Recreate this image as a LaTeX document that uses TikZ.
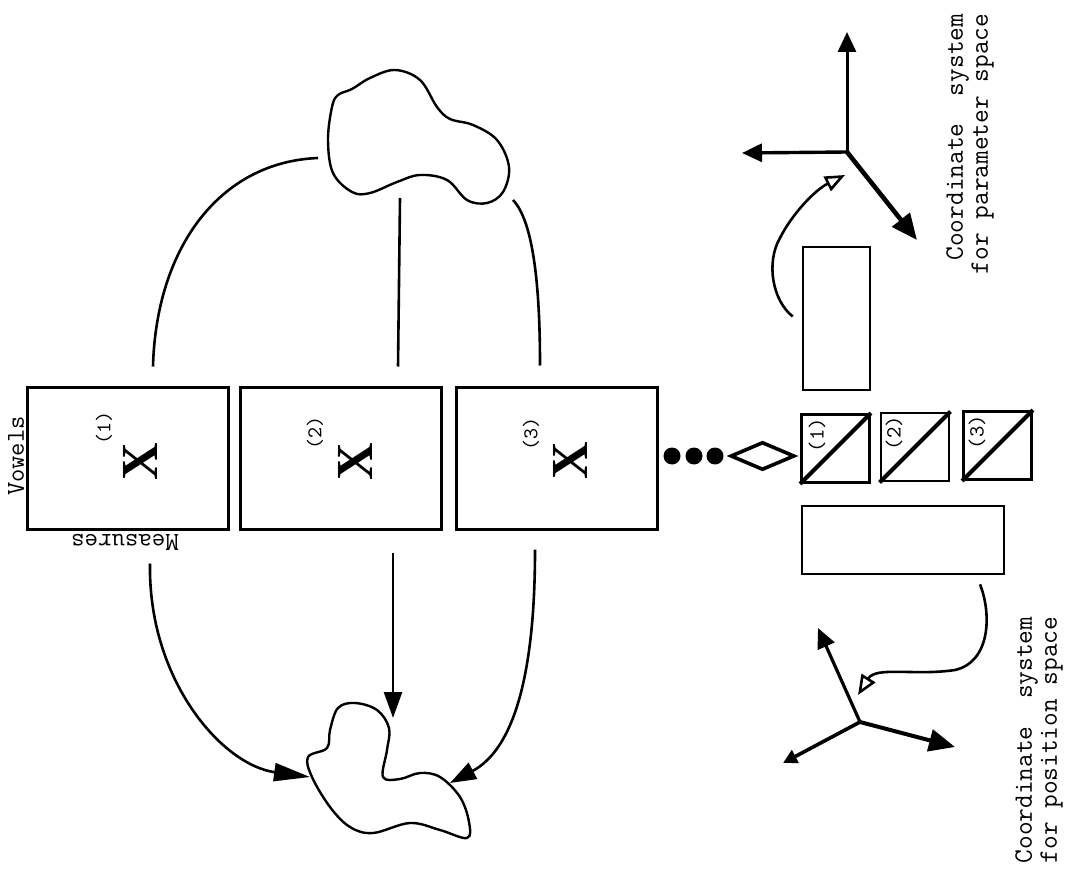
\documentclass[tikz,border=0pt]{standalone}
\usepackage{fontspec}
\newfontfamily\xfont{Liberation Serif}
\usepackage{tikz}
\usetikzlibrary{arrows.meta, shapes.geometric, calc}

\begin{document}
\begin{tikzpicture}[
    x=0.5pt, y=-0.5pt,
    measbox/.style={
        rectangle,
        draw,
        line width=1.5pt,
        minimum width=100.5pt,
        minimum height=71pt,
        inner sep=0pt
    },
    vsquare/.style={
        rectangle,
        draw,
        line width=1.4pt,
        minimum size=34pt,
        inner sep=0pt
    },
    emptybox/.style={
        rectangle,
        draw,
        line width=1.3pt,
        inner sep=0pt
    },
    dotnode/.style={
        circle,
        fill,
        minimum size=8.5pt,
        inner sep=0pt
    },
    smalllabel/.style={
        rotate=90,
        inner sep=0pt,
        font=\fontsize{10.5}{11}\selectfont\ttfamily
    },
    bigx/.style={
        rotate=90,
        inner sep=0pt,
        font=\fontsize{26}{26}\selectfont\xfont\bfseries
    },
    caption/.style={
        rotate=90,
        align=right,
        inner sep=0pt,
        font=\fontsize{13.3}{12.5}\selectfont\ttfamily
    },
    blob/.style={
        line width=1.2pt,
        smooth cycle,
        tension=0.6
    },
    link/.style={
        line width=1.3pt
    },
    arrow/.style={
        line width=1.3pt,
        -{Triangle[length=#1, width=9pt]}
    },
    openarrow/.style={
        line width=1.3pt,
        -{Triangle[open, length=10pt, width=8pt]}
    },
    axis/.style={
        line width=#1,
        -{Triangle[length=10pt, width=9pt]}
    }
]

% Measurement boxes
\node[measbox] (meas1) at (128,458) {};
\node[measbox] (meas2) at (341,458) {};
\node[measbox] (meas3) at (557,458) {};

\node[smalllabel, font=\fontsize{12.9}{13}\selectfont\ttfamily] (vowels) at (16,456) {Vowels};
\node[inner sep=0pt, rotate=180, font=\fontsize{13.1}{13}\selectfont\ttfamily] (measures) at (125,542) {Measures};

\node[smalllabel] (num1) at (104,428) {(1)};
\node[bigx] (x1) at (140,462) {X};
\node[smalllabel] (num2) at (315,433) {(2)};
\node[bigx] (x2) at (355,462) {X};
\node[smalllabel] (num3) at (531,434) {(3)};
\node[bigx] (x3) at (570,461) {X};

\node[dotnode] (dot1) at (672,456) {};
\node[dotnode] (dot2) at (694,456) {};
\node[dotnode] (dot3) at (715,456) {};

% Vowel squares
\node[vsquare] (sq1) at (835.5,448.5) {};
\node[vsquare] (sq2) at (915,447) {};
\node[vsquare] (sq3) at (997.5,445.5) {};
\foreach \i in {1,2,3}
    \draw[line width=2pt] (sq\i.south west) -- (sq\i.north east);
\node[smalllabel, font=\fontsize{10.8}{11}\selectfont\ttfamily] at (817,435) {(1)};
\node[smalllabel, font=\fontsize{10.8}{11}\selectfont\ttfamily] at (894,433) {(2)};
\node[smalllabel, font=\fontsize{10.8}{11}\selectfont\ttfamily] at (977,432) {(3)};

\node[diamond, draw, line width=1.8pt, inner sep=0pt,
      minimum width=32pt, minimum height=14pt] (corr) at (762.5,456) {};

\node[emptybox, minimum width=33.5pt, minimum height=71.5pt] (parbox) at (836.5,318.5) {};
\node[emptybox, minimum width=101pt, minimum height=34pt] (posbox) at (903,540) {};

% Blobs
\draw[blob] plot coordinates {(338,95) (352,89) (370,78) (395,70) (420,80) (437,107)
    (450,119) (473,125) (497,140) (509,167) (503,192) (487,203) (467,200) (447,180)
    (420,175) (397,182) (370,193) (352,192) (333,173) (328,140) (332,107)};
\draw[blob] plot coordinates {(308,757) (327,748) (330,730) (338,708) (355,703) (377,710)
    (389,728) (387,750) (383,777) (400,779) (420,773) (440,777) (460,797) (469,822)
    (467,838) (440,830) (410,823) (373,833) (350,827) (330,807) (312,777)};

\coordinate (topL) at (318,158);
\coordinate (topM) at (400,198);
\coordinate (topR) at (513,200);
\coordinate (botL) at (310,777);
\coordinate (botM) at (393,718);
\coordinate (botR) at (450,783);

% Upper links
\draw[link] ($(meas1.north)+(25,-19)$) .. controls (156,250) and (218,162) .. (topL);
\draw[link] ($(meas2.north)+(57,-19)$) -- (topM);
\draw[link] ($(meas3.north)+(-17,-20)$) .. controls (540,290) and (534,222) .. (topR);

% Lower arrows
\draw[arrow=18pt] ($(meas1.south)+(22,33)$) .. controls (148,680) and (222,765) .. (botL);
\draw[arrow=13pt] ($(meas2.south)+(52,22)$) -- (botM);
\draw[arrow=13pt] ($(meas3.south)+(-22,19)$) .. controls (535,680) and (512,750) .. (botR);

% Parameter space
\coordinate (porig) at (847,152);
\draw[axis=1.5pt] (porig) -- (847,32);
\draw[axis=1.7pt] (porig) -- (742,153);
\draw[line width=2.3pt, -{Triangle[length=13pt, width=11pt]}] (porig) -- (917,240);
\draw[openarrow] ($(parbox.west)+(-9,-2)$) .. controls (772,300) and (766,262) .. (780,238)
    .. controls (792,214) and (815,190) .. (845,175);
\node[caption] (partext) at (970,144) {Coordinate\ \ system\\for parameter space};

% Position space
\coordinate (xorig) at (860,722);
\draw[axis=1.6pt] (xorig) -- (818,628);
\draw[line width=1.8pt, -{Triangle[length=7pt, width=7pt]}] (xorig) -- (783,763);
\draw[line width=2pt, -{Triangle[length=13pt, width=11pt]}] (xorig) -- (955,747);
\draw[openarrow] ($(posbox.south)+(77,9)$) .. controls (992,615) and (990,662) .. (955,670)
    .. controls (915,676) and (876,666) .. (858,695);
\node[caption, align=left] (postext) at (1039,740) {Coordinate\ \ system\\for position space};

\useasboundingbox (0,0) rectangle (1068,876);
\end{tikzpicture}
\end{document}
